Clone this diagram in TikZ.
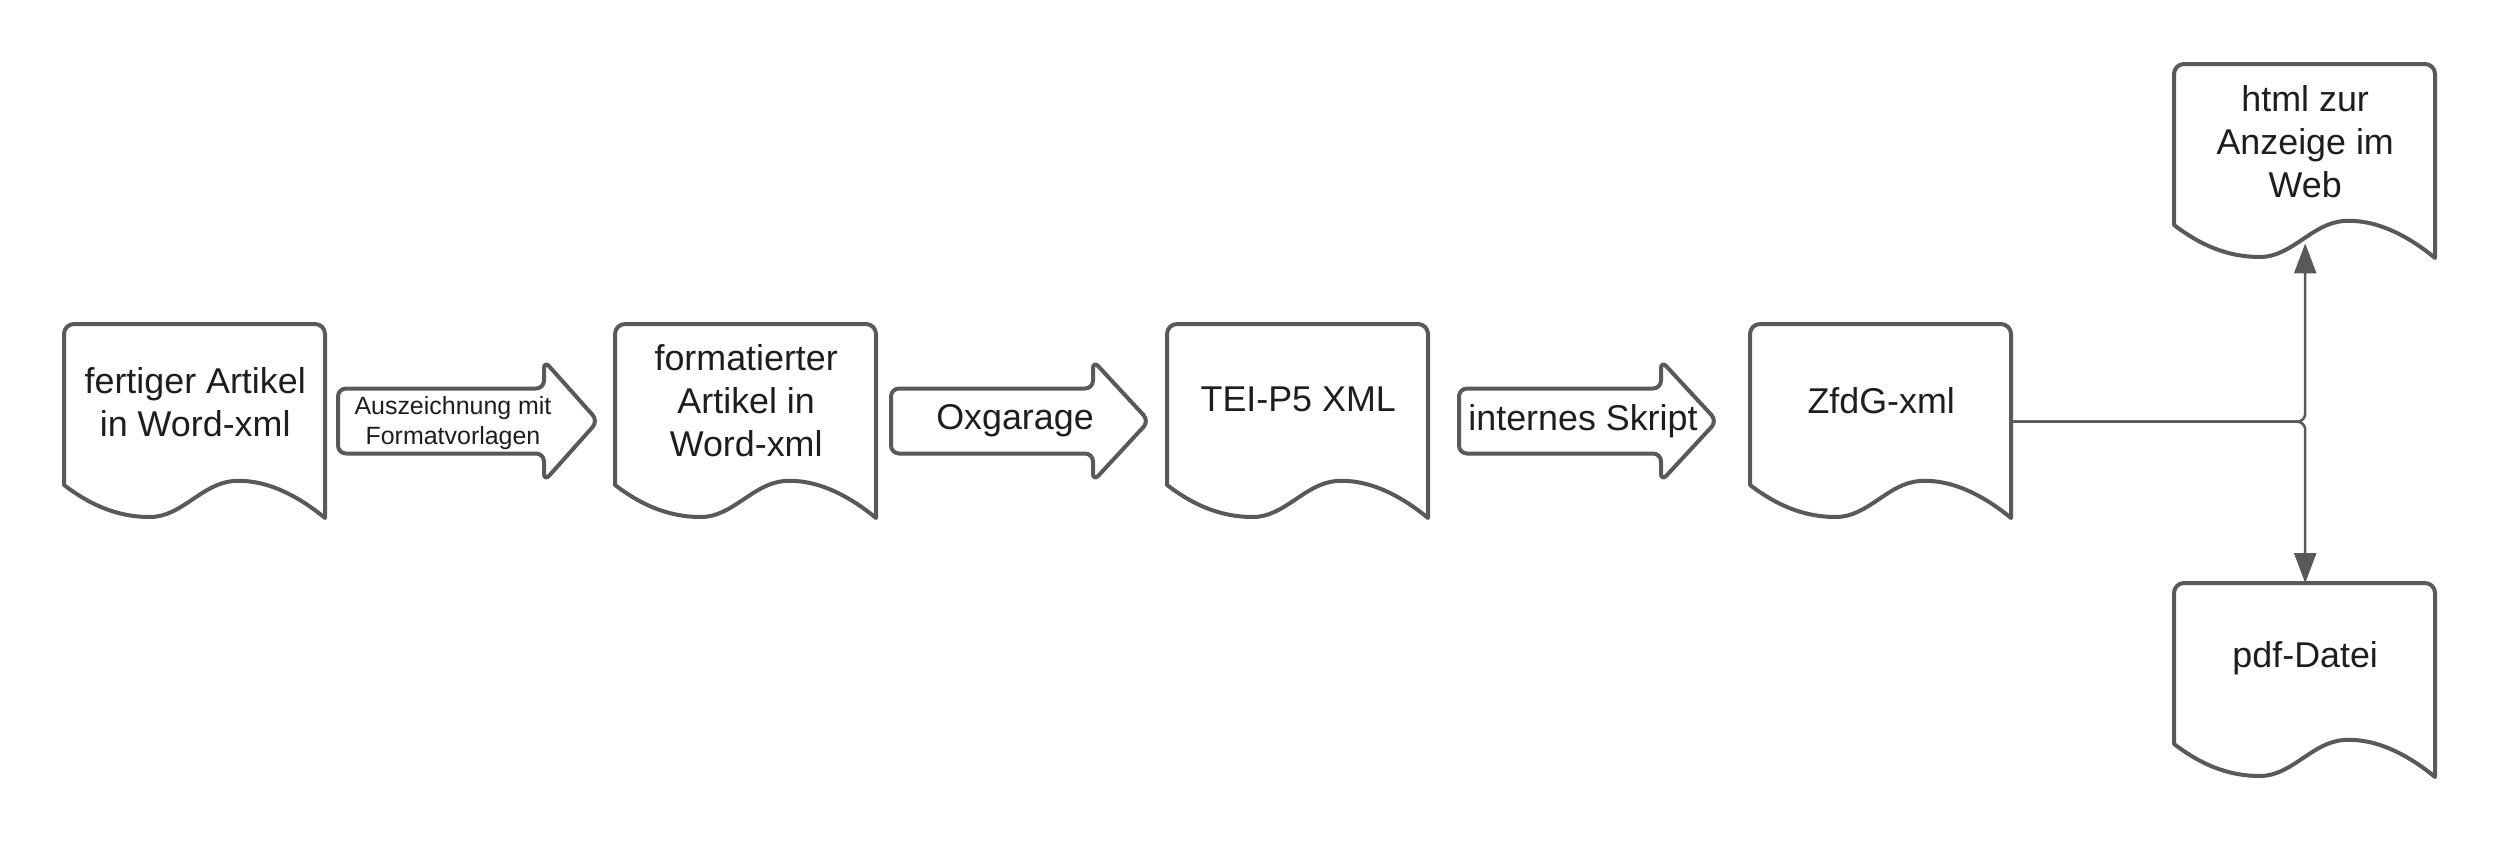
\documentclass[tikz,border=0pt]{standalone}
\usepackage{fontspec}
\setmainfont{Liberation Sans}
\usepackage{xcolor}
\usetikzlibrary{arrows.meta,positioning}

\definecolor{linegray}{RGB}{89,89,89}
\definecolor{textgray}{RGB}{30,30,30}

\begin{document}
\begin{tikzpicture}[line cap=round,line join=round,>={Triangle[length=3mm,width=2.2mm]},x=0.1mm,y=0.1mm,
  docbox/.style={minimum width=26.1mm,minimum height=19.4mm,inner sep=0pt,anchor=north west},
  docline/.style={draw=linegray,line width=0.4mm,fill=white},
  blockarrow/.style={draw=linegray,line width=0.4mm,fill=white,rounded corners=0.8mm},
  doctext/.style={text=textgray,align=center,font=\fontsize{10.2}{12.2}\selectfont},
  arrowtext/.style={text=textgray,align=center,font=\fontsize{7.1}{8.5}\selectfont},
  conn/.style={draw=linegray,line width=0.25mm,rounded corners=0.8mm}]
\fill[white] (0,0) rectangle (2500,844);
% documents
\node[docbox] (art) at (64,520) {};
\node[docbox] (fmt) at (615,520) {};
\node[docbox] (tei) at (1167,520) {};
\node[docbox] (zfdg) at (1750,520) {};
\node[docbox] (html) at (2174,780) {};
\node[docbox] (pdf) at (2174,261) {};
\foreach \d in {art,fmt,tei,zfdg,html,pdf}
  \draw[docline,shift={(\d.north west)}] (0,-161) -- (0,-10) arc[start angle=180,end angle=90,radius=1mm]
    -- (251,0) arc[start angle=90,end angle=0,radius=1mm] -- (261,-194)
    .. controls (232,-170) and (200,-155) .. (170,-157)
    .. controls (138,-159) and (118,-193) .. (86,-193)
    .. controls (52,-193) and (25,-180) .. (0,-161) -- cycle;
\node[doctext] (art-t) at ([yshift=-7.8mm]art.north) {fertiger Artikel\\in Word-xml};
\node[doctext] (fmt-t) at ([yshift=-7.7mm]fmt.north) {formatierter\\Artikel in\\Word-xml};
\node[doctext] (tei-t) at ([yshift=-7.5mm]tei.north) {TEI-P5 XML};
\node[doctext] (zfdg-t) at ([yshift=-7.7mm]zfdg.north) {ZfdG-xml};
\node[doctext] (html-t) at ([yshift=-7.8mm]html.north) {html zur\\Anzeige im\\Web};
\node[doctext] (pdf-t) at ([yshift=-7.5mm]pdf.north) {pdf-Datei};
% block arrows
\draw[blockarrow] (338,390.5) -- (338,455.5) -- (544,455.5) -- (544,483.5) -- (598,423) -- (544,362.5) -- (544,390.5) -- cycle;
\draw[blockarrow] (891,390.5) -- (891,455.5) -- (1093,455.5) -- (1093,483.5) -- (1149,423) -- (1093,362.5) -- (1093,390.5) -- cycle;
\draw[blockarrow] (1459,390.5) -- (1459,455.5) -- (1661,455.5) -- (1661,483.5) -- (1717,423) -- (1661,362.5) -- (1661,390.5) -- cycle;
\node[arrowtext] (a1-t) at (453,421) {Auszeichnung mit\\Formatvorlagen};
\node[doctext] (a2-t) at (1015,423) {Oxgarage};
\node[doctext] (a3-t) at (1583,423) {internes Skript};
% connectors
\coordinate (html-in) at ([yshift=1.6mm]html.south);
\draw[conn,->] (zfdg.east) -| (html-in);
\draw[conn,->] (zfdg.east) -| (pdf.north);
\end{tikzpicture}
\end{document}
